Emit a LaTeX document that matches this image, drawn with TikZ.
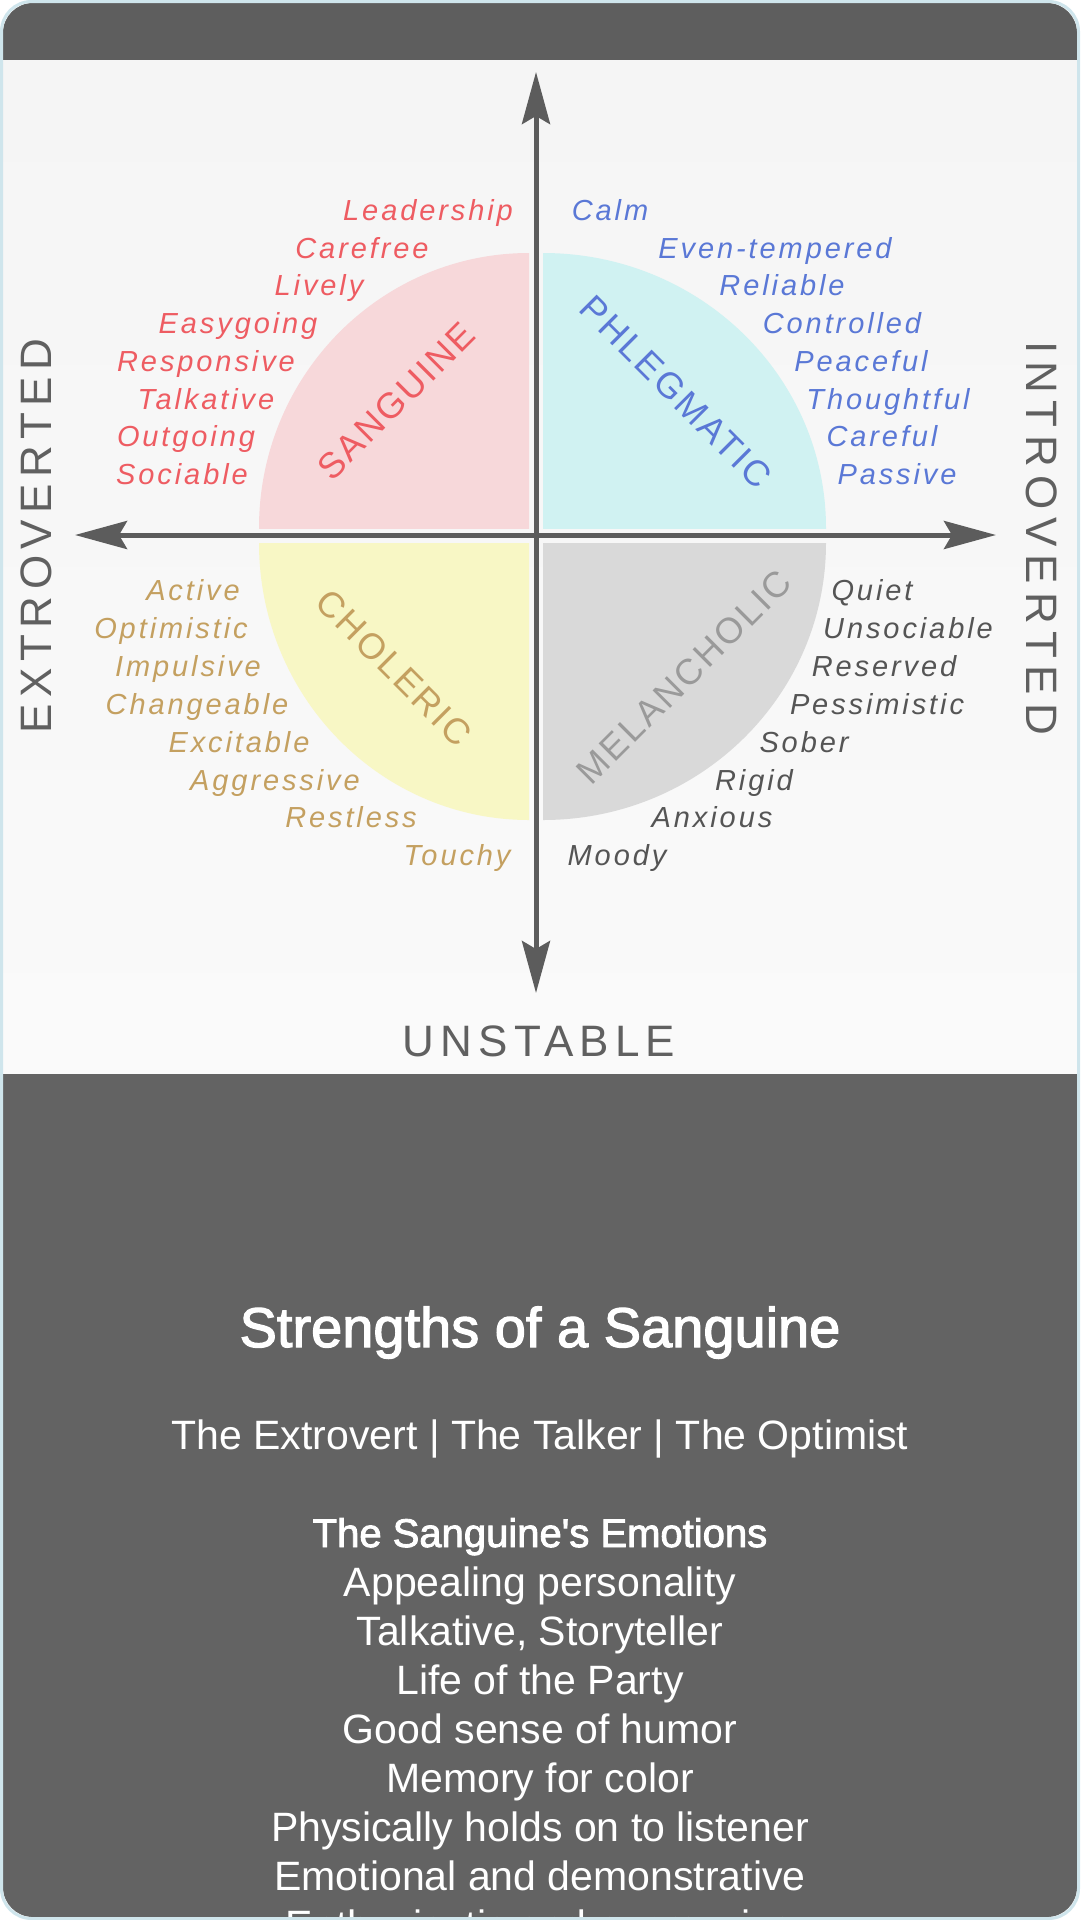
\documentclass[tikz,border=0pt]{standalone}
\usepackage{fontspec}
\setmainfont{Liberation Sans}
\newfontfamily\traitfont{Liberation Sans}[LetterSpace=10]
\newfontfamily\typefont{Liberation Sans}[LetterSpace=7]
\newfontfamily\axisfont{Liberation Sans}
\newfontfamily\bodyfont{Liberation Sans}
\newfontfamily\titlefont{Liberation Sans}[FakeBold=2.2]
\usetikzlibrary{arrows.meta}

\definecolor{bandgrey}{HTML}{5E5E5E}
\definecolor{panelgrey}{HTML}{636363}
\definecolor{framecol}{HTML}{CFE5EC}
\definecolor{bgtop}{HTML}{F5F5F5}
\definecolor{bgbot}{HTML}{FAFAFA}
\definecolor{axisgrey}{HTML}{5C5C5C}
\definecolor{pinkfill}{HTML}{F7D8DA}
\definecolor{cyanfill}{HTML}{D0F2F2}
\definecolor{yellowfill}{HTML}{F8F7C5}
\definecolor{greyfill}{HTML}{D9D9D9}
\definecolor{sangred}{HTML}{EE5C62}
\definecolor{phlblue}{HTML}{5A78D6}
\definecolor{choltan}{HTML}{C4A060}
\definecolor{meltext}{HTML}{555555}
\definecolor{meltype}{HTML}{9A9A9A}
\definecolor{axistext}{HTML}{606060}

\begin{document}
\begin{tikzpicture}[x=1pt,y=-1pt,
  trait/.style={anchor=base, inner sep=0pt, font=\traitfont\itshape\fontsize{29}{34}\selectfont},
  typelabel/.style={anchor=center, inner sep=0pt, font=\typefont\fontsize{36}{40}\selectfont},
  axislabel/.style={anchor=center, inner sep=0pt, text=axistext},
  axisline/.style={draw=axisgrey, line width=5pt,
    {Stealth[length=52pt,width=28pt,inset=8pt]}-{Stealth[length=52pt,width=28pt,inset=8pt]}},
  bodyline/.style={anchor=base, inner sep=0pt, text=white, font=\bodyfont\fontsize{41}{49}\selectfont},
]
\useasboundingbox (0,0) rectangle (1080,1920);
\fill[white] (0,0) rectangle (1080,1920);

% card body, top band and lower text panel
\begin{scope}
  \clip[rounded corners=30pt] (3,3) rectangle (1077,1917);
  \shade[top color=bgtop, bottom color=bgbot] (0,60) rectangle (1080,1074);
  \fill[bandgrey] (0,0) rectangle (1080,60);
  \fill[panelgrey] (0,1074) rectangle (1080,1920);
  % text of the lower panel
  \node[bodyline, font=\titlefont\fontsize{56}{64}\selectfont] (title) at (540,1347) {Strengths of a Sanguine};
  \node[bodyline] (subtitle) at (540,1449) {The Extrovert | The Talker | The Optimist};
  \node[bodyline, font=\titlefont\fontsize{40}{49}\selectfont] (emohead) at (540,1547) {The Sanguine's Emotions};
  \foreach \t [count=\i] in {Appealing personality, {Talkative, Storyteller}, Life of the Party,
      Good sense of humor, Memory for color, Physically holds on to listener,
      Emotional and demonstrative, Enthusiastic and expressive}
    \node[bodyline] (emo\i) at (540,{1547+49*\i}) {\t};
\end{scope}
\draw[framecol, line width=3pt, rounded corners=30pt] (1.5,1.5) rectangle (1078.5,1918.5);

% the four temperament quarters
\begin{scope}
  \clip (259,253) rectangle (529,528);
  \fill[pinkfill] (529,528) ellipse [x radius=270, y radius=275];
\end{scope}
\begin{scope}
  \clip (543,253) rectangle (826,528);
  \fill[cyanfill] (543,528) ellipse [x radius=283, y radius=275];
\end{scope}
\begin{scope}
  \clip (259,543) rectangle (529,820);
  \fill[yellowfill] (529,543) ellipse [x radius=270, y radius=277];
\end{scope}
\begin{scope}
  \clip (543,543) rectangle (826,820);
  \fill[greyfill] (543,543) ellipse [x radius=283, y radius=277];
\end{scope}

% axes
\coordinate (north) at (536,72);
\coordinate (south) at (536,993);
\coordinate (west) at (75,535);
\coordinate (east) at (996,535);
\draw[axisline] (south) -- (north);
\draw[axisline] (west) -- (east);

% axis labels
\node[axislabel, rotate=90, font=\axisfont\addfontfeatures{LetterSpace=15}\fontsize{44}{48}\selectfont] (extro) at (36,536) {EXTROVERTED};
\node[axislabel, rotate=-90, font=\axisfont\addfontfeatures{LetterSpace=18}\fontsize{44}{48}\selectfont] (intro) at (1042,538) {INTROVERTED};
\node[axislabel, font=\axisfont\addfontfeatures{LetterSpace=14}\fontsize{44}{48}\selectfont] (unstable) at (539,1041) {UNSTABLE};

% temperament names
\node[typelabel, rotate=45, text=sangred] (sanguine) at (396,401) {SANGUINE};
\node[typelabel, rotate=-45, text=phlblue] (phlegmatic) at (676,392) {PHLEGMATIC};
\node[typelabel, rotate=-45, text=choltan] (choleric) at (394,668) {CHOLERIC};
\node[typelabel, rotate=45, text=meltype] (melancholic) at (684,677) {MELANCHOLIC};

% traits of each temperament
\foreach \t/\x/\y [count=\i] in {Leadership/428/220, Carefree/362/258, Lively/319/295,
    Easygoing/238/333, Responsive/206/371, Talkative/206/409, Outgoing/186/446, Sociable/182/484}
  \node[trait, text=sangred] (san\i) at (\x,\y) {\t};
\foreach \t/\x/\y [count=\i] in {Calm/610/220, Even-tempered/775/258, Reliable/782/295,
    Controlled/842/333, Peaceful/861/371, Thoughtful/888/409, Careful/882/446, Passive/897/484}
  \node[trait, text=phlblue] (phl\i) at (\x,\y) {\t};
\foreach \t/\x/\y [count=\i] in {Active/193/600, Optimistic/171/638, Impulsive/188/676,
    Changeable/197/714, Excitable/239/752, Aggressive/275/790, Restless/351/827, Touchy/457/865}
  \node[trait, text=choltan] (cho\i) at (\x,\y) {\t};
\foreach \t/\x/\y [count=\i] in {Quiet/872/600, Unsociable/908/638, Reserved/884/676,
    Pessimistic/877/714, Sober/804/752, Rigid/754/790, Anxious/712/827, Moody/617/865}
  \node[trait, text=meltext] (mel\i) at (\x,\y) {\t};
\end{tikzpicture}
\end{document}
